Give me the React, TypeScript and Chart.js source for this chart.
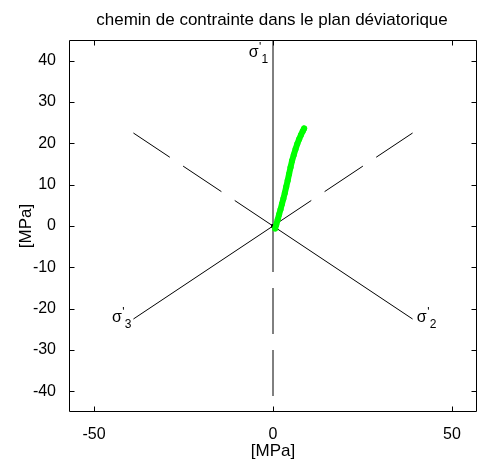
import React, { useEffect, useRef } from "react";
import { Chart, registerables } from "chart.js";

Chart.register(...registerables);

const X_TICKS = [-50, 0, 50];
const Y_TICKS = [-40, -30, -20, -10, 0, 10, 20, 30, 40];
const X_MIN = -57;
const X_MAX = 57;
const Y_MIN = -45;
const Y_MAX = 45;

const TITLE = "chemin de contrainte dans le plan déviatorique";
const X_LABEL = "[MPa]";
const Y_LABEL = "[MPa]";

// stress path in the deviatoric plane
const PATH_X = [0.6, 0.9, 1.3, 1.7, 2.1, 2.5, 2.9, 3.3, 3.7, 4.1, 4.5, 4.9, 5.3, 5.8, 6.3, 6.8, 7.3, 7.8, 8.3, 8.7];
const PATH_Y = [-0.6, 0.3, 1.5, 2.8, 4.0, 5.3, 6.6, 8.0, 9.5, 11.0, 12.6, 14.2, 15.7, 17.2, 18.6, 19.9, 21.0, 22.0, 22.9, 23.6];

// origin marker
const ORIGIN_X = [0];
const ORIGIN_Y = [0];

// principal stress axes (end points from the origin)
const SOLID_AXIS_X = [0, 39, -39];
const SOLID_AXIS_Y = [45, -22.5, -22.5];
const DASHED_AXIS_X = [0, -39, 39];
const DASHED_AXIS_Y = [-45, 22.5, 22.5];

// axis labels: σ'1, σ'2, σ'3 anchored in data units
const AXIS_LABEL_SUB = ["1", "2", "3"];
const AXIS_LABEL_X = [-6.8, 40.2, -45.0];
const AXIS_LABEL_Y = [41.0, -23.3, -23.3];

const FONT = "'Liberation Sans', Arial, sans-serif";

const decoPlugin = {
  id: "deco",
  afterDraw(chart: any) {
    const { ctx, chartArea, scales } = chart;
    const { left, right, top, bottom } = chartArea;
    const xs = scales.x;
    const ys = scales.y;
    ctx.save();
    ctx.strokeStyle = "#000";
    ctx.lineWidth = 1;
    const L = Math.round(left) + 0.5;
    const R = Math.round(right) - 0.5;
    const T = Math.round(top) + 0.5;
    const B = Math.round(bottom) - 0.5;
    ctx.beginPath();
    ctx.rect(L, T, R - L, B - T);
    ctx.stroke();
    const tl = 5;
    ctx.beginPath();
    X_TICKS.forEach((v) => {
      const px = Math.round(xs.getPixelForValue(v)) + 0.5;
      ctx.moveTo(px, B);
      ctx.lineTo(px, B - tl);
      ctx.moveTo(px, T);
      ctx.lineTo(px, T + tl);
    });
    Y_TICKS.forEach((v) => {
      const py = Math.round(ys.getPixelForValue(v)) + 0.5;
      ctx.moveTo(L, py);
      ctx.lineTo(L + tl, py);
      ctx.moveTo(R, py);
      ctx.lineTo(R - tl, py);
    });
    ctx.stroke();

    ctx.fillStyle = "#000";
    // axis labels σ'
    AXIS_LABEL_SUB.forEach((s, i) => {
      const px = xs.getPixelForValue(AXIS_LABEL_X[i]);
      const py = ys.getPixelForValue(AXIS_LABEL_Y[i]);
      ctx.textAlign = "left";
      ctx.textBaseline = "alphabetic";
      ctx.font = `16px ${FONT}`;
      ctx.fillText("σ", px, py);
      const w = ctx.measureText("σ").width;
      ctx.font = `12px ${FONT}`;
      ctx.fillText("'", px + w + 0.5, py - 6);
      ctx.fillText(s, px + w + 3, py + 6);
    });

    // title
    ctx.textAlign = "center";
    ctx.textBaseline = "middle";
    ctx.font = `17px ${FONT}`;
    ctx.fillText(TITLE, 272, 20);
    // x label
    ctx.font = `17px ${FONT}`;
    ctx.fillText(X_LABEL, (L + R) / 2, 451);
    // y label
    ctx.save();
    ctx.translate(26, (T + B) / 2);
    ctx.rotate(-Math.PI / 2);
    ctx.fillText(Y_LABEL, 0, 0);
    ctx.restore();
    ctx.restore();
  },
};

export default function App() {
  const ref = useRef<HTMLCanvasElement | null>(null);
  useEffect(() => {
    document.body.style.margin = "0";
    const canvas = ref.current!;
    const seg = (ex: number, ey: number) => [
      { x: 0, y: 0 },
      { x: ex, y: ey },
    ];
    const axisSets: any[] = [];
    SOLID_AXIS_X.forEach((ex, i) => {
      axisSets.push({
        data: seg(ex, SOLID_AXIS_Y[i]),
        showLine: true,
        borderColor: "#000",
        borderWidth: 1,
        pointRadius: 0,
        order: 2,
      });
    });
    DASHED_AXIS_X.forEach((ex, i) => {
      axisSets.push({
        data: seg(ex, DASHED_AXIS_Y[i]),
        showLine: true,
        borderColor: "#000",
        borderWidth: 1,
        borderDash: [46, 16],
        pointRadius: 0,
        order: 2,
      });
    });
    const chart = new Chart(canvas, {
      type: "scatter",
      data: {
        datasets: [
          {
            data: PATH_X.map((x, i) => ({ x, y: PATH_Y[i] })),
            showLine: true,
            borderColor: "#00ff00",
            backgroundColor: "#00ff00",
            borderWidth: 6,
            borderCapStyle: "round",
            borderJoinStyle: "round",
            pointRadius: 3,
            pointBorderWidth: 0,
            order: 0,
          },
          {
            data: ORIGIN_X.map((x, i) => ({ x, y: ORIGIN_Y[i] })),
            showLine: false,
            backgroundColor: "#000",
            borderColor: "#000",
            pointStyle: "rect",
            pointRadius: 2,
            order: 0,
          },
          ...axisSets,
        ],
      },
      options: {
        responsive: false,
        animation: false,
        layout: { padding: { left: 0, right: 8, top: 40, bottom: 0 } },
        plugins: {
          legend: { display: false },
          title: { display: false },
          tooltip: { enabled: false },
        },
        scales: {
          x: {
            type: "linear",
            min: X_MIN,
            max: X_MAX,
            grid: { display: false },
            border: { display: false },
            afterFit: (s: any) => {
              s.height = 51;
            },
            afterBuildTicks: (s: any) => {
              s.ticks = X_TICKS.map((v) => ({ value: v }));
            },
            ticks: {
              color: "#000",
              font: { family: FONT, size: 16 },
              padding: 5,
              maxRotation: 0,
              autoSkip: false,
            },
          },
          y: {
            type: "linear",
            min: Y_MIN,
            max: Y_MAX,
            grid: { display: false },
            border: { display: false },
            afterFit: (s: any) => {
              s.width = 69;
            },
            afterBuildTicks: (s: any) => {
              s.ticks = Y_TICKS.map((v) => ({ value: v }));
            },
            ticks: {
              color: "#000",
              font: { family: FONT, size: 16 },
              padding: 5,
              autoSkip: false,
            },
          },
        },
      },
      plugins: [decoPlugin],
    });
    return () => chart.destroy();
  }, []);
  return (
    <div style={{ position: "absolute", left: 0, top: 0 }}>
      <canvas ref={ref} width={485} height={463} style={{ display: "block", width: 485, height: 463 }} />
    </div>
  );
}
